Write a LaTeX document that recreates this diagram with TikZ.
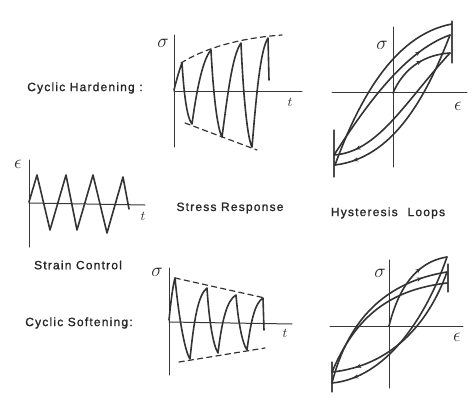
\documentclass[tikz,border=0pt]{standalone}
\usepackage{fontspec}
\newfontfamily\labfont[LetterSpace=10,FakeBold=1.2]{Liberation Sans}
\usetikzlibrary{decorations.markings,arrows.meta}
\begin{document}
\begin{tikzpicture}[x=0.75pt,y=-0.75pt,line join=round,line cap=round,
  axis/.style={line width=0.75pt,draw=black!78},
  curve/.style={line width=1.2pt,draw=black!80},
  env/.style={line width=0.9pt,draw=black!80,dash pattern=on 4pt off 3pt},
  tick/.style={line width=0.8pt,draw=black!70},
  lab/.style={font=\labfont\fontsize{9}{11}\selectfont,text=black!85,inner sep=0pt},
  sym/.style={font=\Large,text=black!85,inner sep=0pt},
  tsym/.style={font=\normalsize,text=black!85,inner sep=0pt},
  arrowat/.style={postaction={decorate},decoration={markings,mark=at position #1 with {\arrow{Stealth[length=4pt,width=3.2pt]}}}}
]
\useasboundingbox (0,0) rectangle (475,403);

% ---------- labels ----------
\node[lab,anchor=west] (hard) at (27,88) {Cyclic Hardening :};
\node[lab,anchor=west] (soft) at (25,323) {Cyclic Softening:};
\node[lab] (strainlab) at (78,265) {Strain Control};
\node[lab] (stresslab) at (230,208) {Stress Response};
\node[lab] (hystlab) at (388,213) {Hysteresis\hspace{4pt} Loops};

% ---------- strain control ----------
\draw[axis] (29,160) -- (29,247);
\draw[axis] (29,203) -- (145,205);
\node[sym] (eps1) at (18,164) {$\epsilon$};
\node[tsym] (t1) at (143,216) {$t$};
\draw[curve] (29,202) -- (37,175) -- (50,230) -- (66,175) -- (77,230) -- (93,175) -- (107,233) -- (123,177) -- (129,209);

% ---------- hardening stress response ----------
\draw[axis] (174,35) -- (174,147);
\draw[axis] (174,92) -- (302,92);
\node[sym] (sig1) at (163,43) {$\sigma$};
\node[tsym] (t2) at (290,102) {$t$};
\draw[curve] (174,90) .. controls (177,78) and (180,68) .. (182,63)
  .. controls (184,95) and (187,118) .. (192,124)
  .. controls (196,95) and (202,60) .. (211,50)
  .. controls (213,90) and (217,128) .. (222,137)
  .. controls (227,100) and (232,55) .. (241,43)
  .. controls (243,90) and (247,138) .. (252,147)
  .. controls (256,100) and (260,50) .. (268,38)
  -- (269,80);
\draw[env] (181,63) .. controls (205,48) and (240,38) .. (282,35);
\draw[env] (185,123) -- (257,150);

% ---------- softening stress response ----------
\draw[axis] (169,268) -- (169,375);
\draw[axis] (169,322) -- (292,324);
\node[sym] (sig2) at (157,272) {$\sigma$};
\node[tsym] (t3) at (285,333) {$t$};
\draw[curve] (169,320) .. controls (171,300) and (173,285) .. (175,278)
  .. controls (178,310) and (184,350) .. (190,359)
  .. controls (194,320) and (198,295) .. (207,288)
  .. controls (209,320) and (213,345) .. (218,353)
  .. controls (222,320) and (227,300) .. (236,295)
  .. controls (238,320) and (242,343) .. (247,350)
  .. controls (251,320) and (255,303) .. (263,298)
  -- (264,330);
\draw[env] (175,278) -- (265,298);
\draw[env] (179,362) -- (265,348);

% ---------- hardening hysteresis ----------
\draw[axis] (393,27) -- (393,167);
\draw[axis] (332,93) -- (467,93);
\node[sym] (sig3) at (382,45) {$\sigma$};
\node[sym] (eps2) at (458,106) {$\epsilon$};
\draw[tick] (452,21) -- (452,63);
\draw[tick] (334,130) -- (334,177);
\draw[curve,arrowat=0.6] (393,93) .. controls (402,72) and (420,55) .. (450,53);
\draw[curve,arrowat=0.86] (450,53) .. controls (405,102) and (378,152) .. (334,155);
\draw[curve,arrowat=0.8] (334,155) .. controls (362,112) and (402,52) .. (450,35);
\draw[curve,arrowat=0.9] (450,35) .. controls (425,100) and (392,158) .. (335,165);
\draw[curve] (335,165) .. controls (357,105) and (392,35) .. (452,24);

% ---------- softening hysteresis ----------
\draw[axis] (389,260) -- (389,388);
\draw[axis] (330,326) -- (463,326);
\node[sym] (sig4) at (380,273) {$\sigma$};
\node[sym] (eps3) at (457,337) {$\epsilon$};
\draw[tick] (448,264) -- (448,292);
\draw[tick] (332,362) -- (332,392);
\draw[curve,arrowat=0.7] (389,326) .. controls (398,290) and (415,262) .. (447,257);
\draw[curve,arrowat=0.88] (447,257) .. controls (425,320) and (385,378) .. (332,383);
\draw[curve,arrowat=0.85] (332,383) .. controls (348,320) and (385,282) .. (447,272);
\draw[curve,arrowat=0.85] (447,272) .. controls (428,325) and (390,366) .. (332,372);
\draw[curve] (332,372) .. controls (355,318) and (388,290) .. (447,283);
\end{tikzpicture}
\end{document}
